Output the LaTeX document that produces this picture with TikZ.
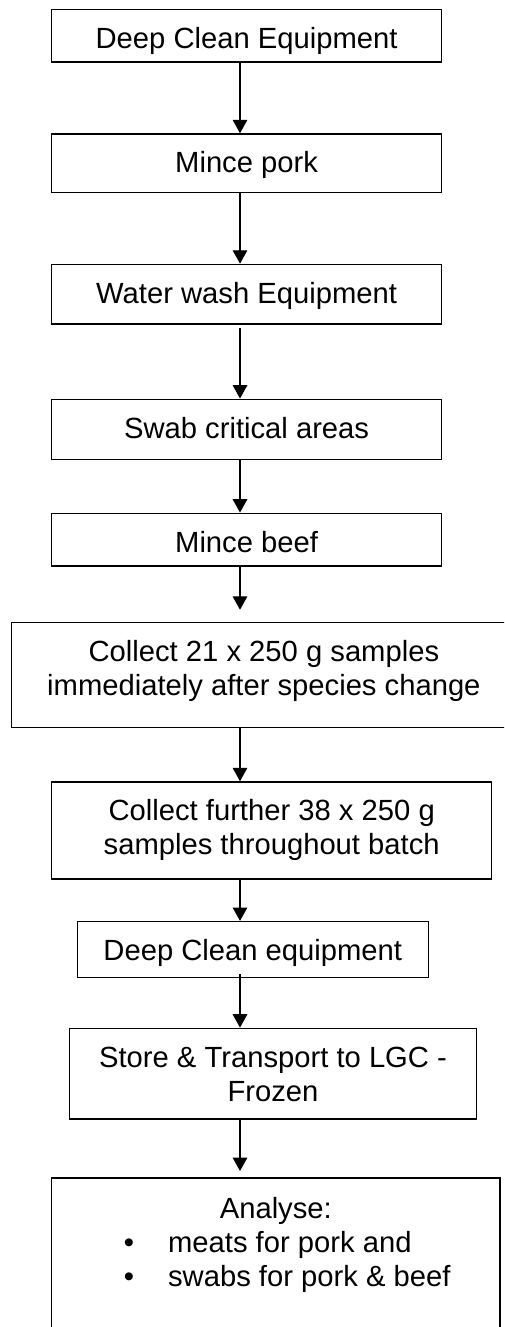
\documentclass[tikz,border=0pt]{standalone}
\usepackage{fontspec}
\setmainfont{Liberation Sans}
\usetikzlibrary{arrows.meta}
\begin{document}
\begin{tikzpicture}[
   x=0.411pt,y=-0.411pt,
   font=\fontsize{12}{14}\selectfont,
   stage/.style={draw,line width=0.6pt,inner sep=0pt},
   link/.style={-{Triangle[width=6pt,length=5.5pt]},line width=0.5pt}]
\useasboundingbox (0,0) rectangle (504,1327);
\clip (0,0) rectangle (504,1327);
\node[stage] (clean1) at (246.6,35.7) {\parbox[c][21.7pt][t]{160.4pt}{\centering\rule{0pt}{16pt}Deep Clean Equipment}};
\node[stage] (pork) at (246.6,163.3) {\parbox[c][24.1pt][t]{160.4pt}{\centering\rule{0pt}{16pt}Mince pork}};
\node[stage] (wash) at (246.6,294.2) {\parbox[c][24.5pt][t]{160.4pt}{\centering\rule{0pt}{16pt}Water wash Equipment}};
\node[stage] (swab) at (246.6,429.3) {\parbox[c][24.7pt][t]{160.4pt}{\centering\rule{0pt}{16pt}Swab critical areas}};
\node[stage] (beef) at (246.6,539.7) {\parbox[c][21.7pt][t]{160.4pt}{\centering\rule{0pt}{16pt}Mince beef}};
\node[stage] (first) at (263.9,675.2) {\parbox[c][43.2pt][t]{207.3pt}{\centering\rule{0pt}{16pt}Collect 21 x 250 g samples\\immediately after species change}};
\node[stage] (further) at (271.7,830.5) {\parbox[c][39.9pt][t]{180.8pt}{\centering\rule{0pt}{16pt}Collect further 38 x 250 g\\samples throughout batch}};
\node[stage] (clean2) at (252.8,949.5) {\parbox[c][22.9pt][t]{144.3pt}{\centering\rule{0pt}{16pt}Deep Clean equipment}};
\node[stage] (store) at (273,1073.7) {\parbox[c][37.3pt][t]{167.4pt}{\centering\rule{0pt}{16pt}Store \& Transport to LGC -\\Frozen}};
\node[stage] (analyse) at (275.8,1268.9) {\parbox[c][74.9pt][t]{184.3pt}{\centering\rule{0pt}{16.8pt}Analyse:\par\raggedright
   \hspace*{29.7pt}\makebox[18.2pt][l]{\textbullet}meats for pork and\par
   \hspace*{29.7pt}\makebox[18.2pt][l]{\textbullet}swabs for pork \& beef}};
\coordinate (spine) at (240,0);
\draw[link] (clean1.south -| spine) -- (pork.north -| spine);
\draw[link] (pork.south -| spine) -- (wash.north -| spine);
\draw[link,shorten <=1.2pt] (wash.south -| spine) -- (swab.north -| spine);
\draw[link] (swab.south -| spine) -- (beef.north -| spine);
\draw[link,shorten >=5pt] (beef.south -| spine) -- (first.north -| spine);
\draw[link] (first.south -| spine) -- (further.north -| spine);
\draw[link] (further.south -| spine) -- (clean2.north -| spine);
\draw[link,shorten <=-1.6pt] (clean2.south -| spine) -- (store.north -| spine);
\draw[link,shorten >=2.5pt] (store.south -| spine) -- (analyse.north -| spine);
\end{tikzpicture}
\end{document}
